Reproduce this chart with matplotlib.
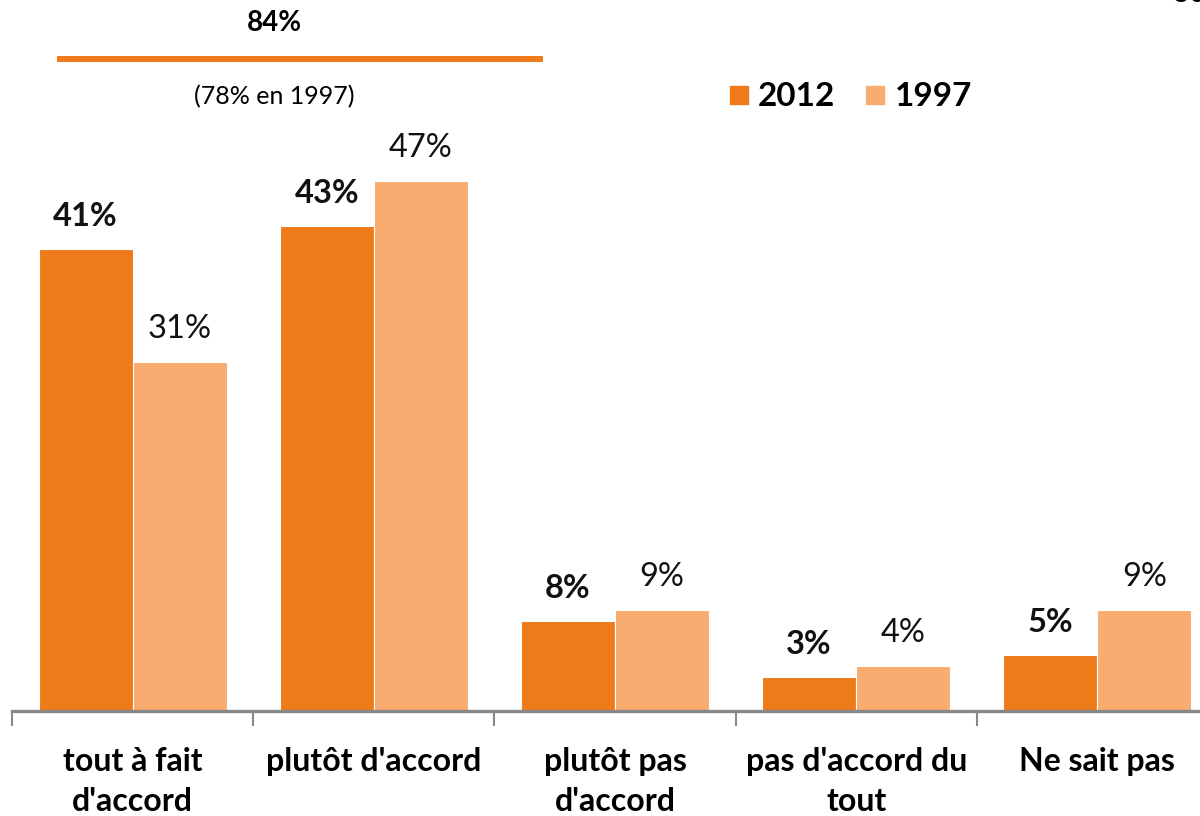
import matplotlib
matplotlib.use("Agg")
import matplotlib.pyplot as plt
import numpy as np
from matplotlib.patches import Rectangle
from matplotlib.lines import Line2D

categories = ["tout à fait\nd'accord", "plutôt d'accord", "plutôt pas\nd'accord",
              "pas d'accord du\ntout", "Ne sait pas"]
values_2012 = [41, 43, 8, 3, 5]
values_1997 = [31, 47, 9, 4, 9]
series_names = ["2012", "1997"]
top_total = "84%"
top_note = "(78% en 1997)"
page_mark = "50"

c2012 = "#EE7A1A"
c1997 = "#F9AC70"

plt.rcParams['font.family'] = ['Lato', 'DejaVu Sans']

W, H = 1200, 816
fig = plt.figure(figsize=(W/100, H/100), dpi=100)
ax = fig.add_axes([12/W, (H-711)/H, 1206/W, 711/H])

x = np.arange(len(categories))
bw = 0.39
ax.bar(x - bw/2, values_2012, bw, color=c2012, edgecolor='white', linewidth=0.8)
ax.bar(x + bw/2, values_1997, bw, color=c1997, edgecolor='white', linewidth=0.8)

for xi, v in zip(x, values_2012):
    ax.annotate(f"{v}%", (xi - bw/2, v), xytext=(0, 13), textcoords='offset points',
                ha='center', va='bottom', fontsize=23.5, fontweight='bold', color='#111111')
for xi, v in zip(x, values_1997):
    ax.annotate(f"{v}%", (xi + bw/2, v), xytext=(0, 13), textcoords='offset points',
                ha='center', va='bottom', fontsize=23.5, color='#111111')

ax.set_xlim(-0.5, len(categories) - 0.5)
ax.set_ylim(0, 711/11.27)
ax.set_xticks(x)
ax.set_xticklabels(categories, fontsize=23, fontweight='bold', linespacing=1.45)
ax.tick_params(axis='x', which='major', length=0, pad=26)
ax.set_xticks(np.arange(-0.5, len(categories) + 0.5, 1), minor=True)
ax.tick_params(axis='x', which='minor', length=11, width=1.5, color='#888888', direction='out')
ax.set_yticks([])
for s in ['top', 'right', 'left']:
    ax.spines[s].set_visible(False)
ax.spines['bottom'].set_color('#888888')
ax.spines['bottom'].set_linewidth(2.4)

# top annotation
fig.add_artist(Line2D([60/W, 540/W], [1 - 59/H, 1 - 59/H], color=c2012, linewidth=4.3))
fig.text(274/W, 1 - 23/H, top_total, ha='center', va='center', fontsize=20, fontweight='bold')
fig.text(274/W, 1 - 97/H, top_note, ha='center', va='center', fontsize=18)

# legend
fig.add_artist(Rectangle((730/W, 1 - 104/H), 18/W, 18/H, color=c2012, transform=fig.transFigure))
fig.text(758/W, 1 - 96/H, series_names[0], ha='left', va='center', fontsize=24, fontweight='bold')
fig.add_artist(Rectangle((866/W, 1 - 104/H), 18/W, 18/H, color=c1997, transform=fig.transFigure))
fig.text(895/W, 1 - 96/H, series_names[1], ha='left', va='center', fontsize=24, fontweight='bold')

# page mark, cut off at the top-right corner as in the reference
fig.text(1190/W, 1 - 7/H, page_mark, ha='center', va='bottom', fontsize=20, fontweight='bold')

fig.savefig("out.png", dpi=100)
